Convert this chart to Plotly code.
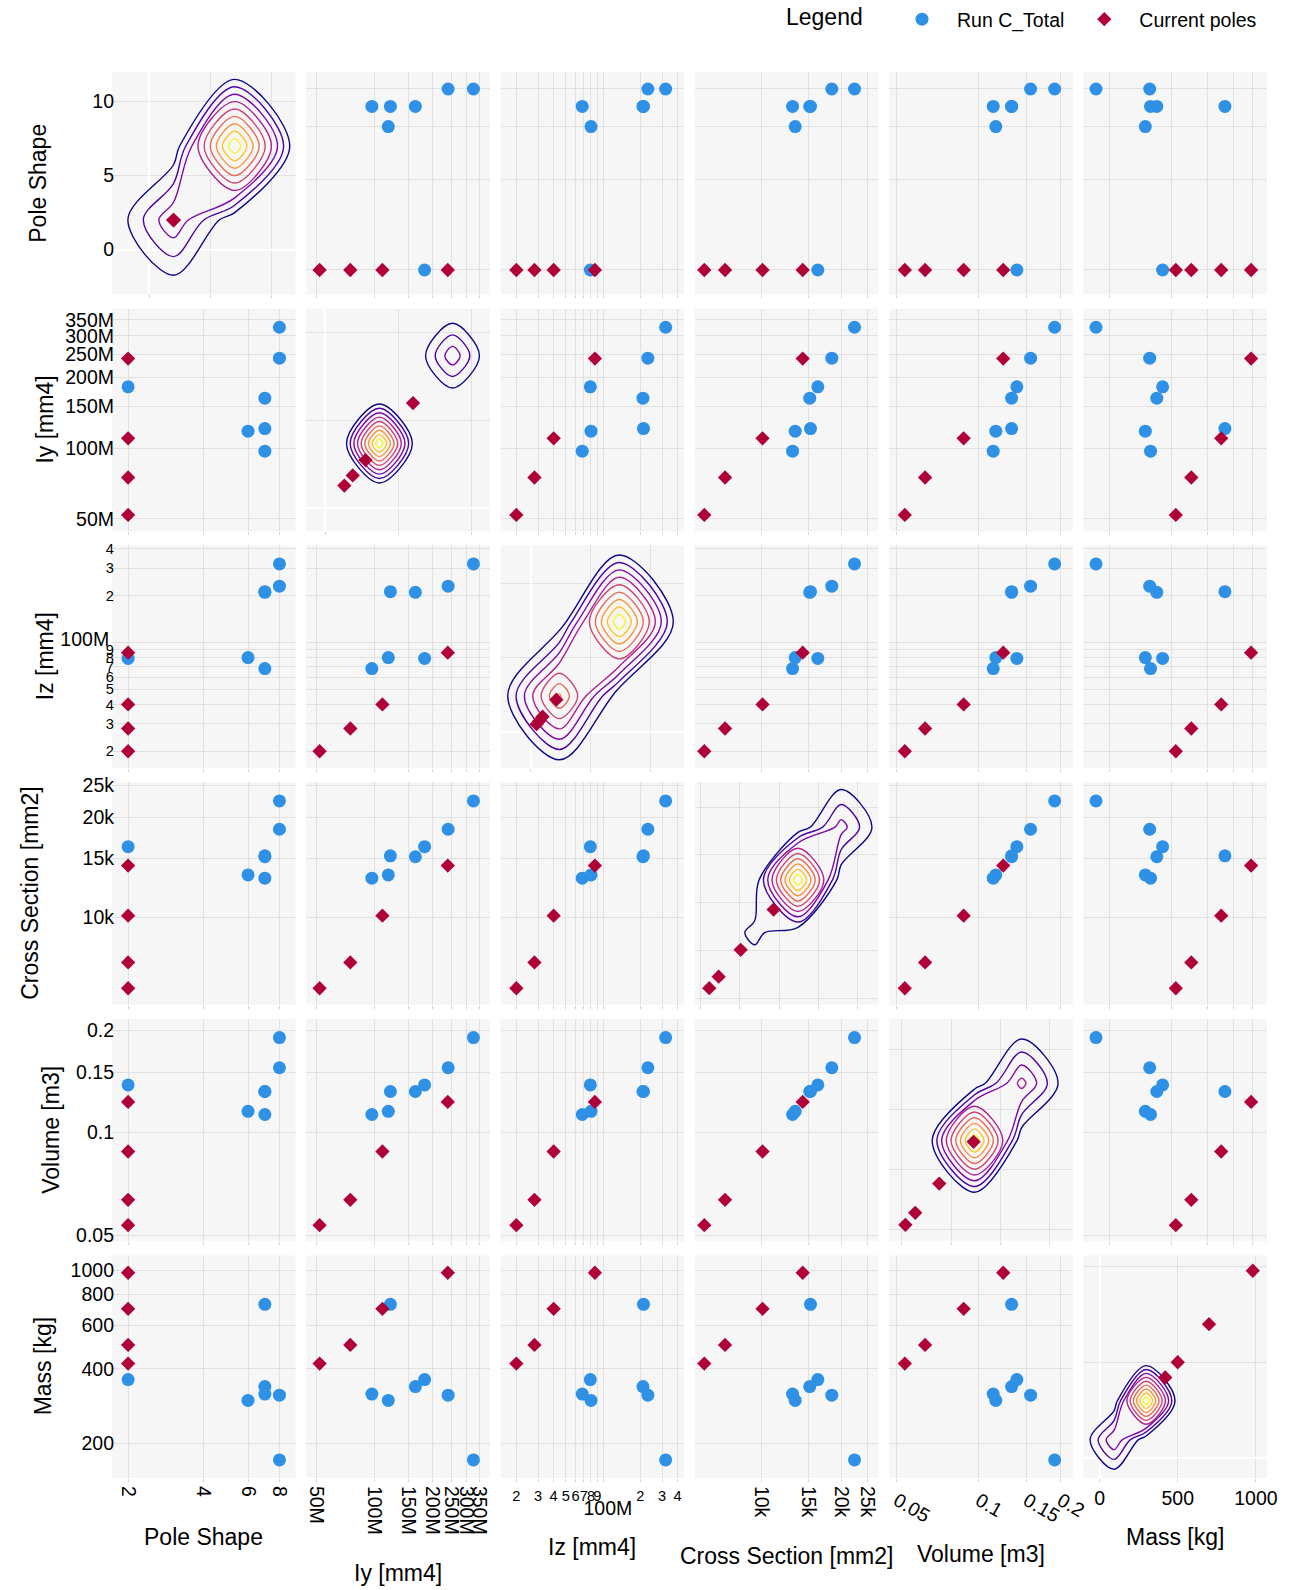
import numpy as np
import plotly.graph_objects as go
from plotly.subplots import make_subplots

# ---------------------------------------------------------------- data
variables = ["Pole Shape", "Iy [mm4]", "Iz [mm4]", "Cross Section [mm2]", "Volume [m3]", "Mass [kg]"]

# Run C_Total designs
run_pole_shape = [2, 7, 7, 7, 6, 8, 8]
run_iy = [182e6, 121e6, 163e6, 97e6, 118e6, 241e6, 326e6]
run_iz = [79e6, 212e6, 210e6, 68e6, 80e6, 230e6, 320e6]
run_cross_section = [16300, 15300, 15200, 13100, 13400, 18400, 22400]
run_volume = [0.138, 0.132, 0.132, 0.113, 0.1155, 0.155, 0.19]
run_mass = [362, 730, 339, 316, 298, 313, 171]

# Current poles
cur_pole_shape = [2, 2, 2, 2]
cur_iy = [240e6, 110e6, 75e6, 52e6]
cur_iz = [86e6, 40e6, 28e6, 20e6]
cur_cross_section = [14300, 10100, 7300, 6100]
cur_volume = [0.123, 0.088, 0.0635, 0.0535]
cur_mass = [980, 700, 500, 420]

# Density of the Run C_Total designs, sampled on a coarse grid along each variable
pole_shape_nodes = [-3, 2, 7, 12]
pole_shape_density = [0.0, 0.395, 1.0, 0.0]
iy_nodes = [-52e6, 48e6, 148e6, 248e6, 348e6, 448e6, 548e6]
iy_density = [0.0, 0.0, 1.0, 0.0, 0.38, 0.0, 0.0]
iz_nodes = [-104e6, 96e6, 296e6, 496e6]
iz_density = [0.0, 0.72, 1.0, 0.0]
cross_section_nodes = [1400, 6400, 11900, 17400, 22900, 28400]
cross_section_density = [0.0, 0.0, 0.13, 1.0, 0.35, 0.0]
volume_nodes = [-0.02, 0.028, 0.076, 0.124, 0.172, 0.22, 0.268]
volume_density = [0.0, 0.0, 0.0, 1.0, 0.44, 0.0, 0.0]
mass_nodes = [-112, 93, 298, 503, 708, 913, 1118]
mass_density = [0.0, 0.4, 1.0, 0.0, 0.0, 0.0, 0.0]

run_values = [run_pole_shape, run_iy, run_iz, run_cross_section, run_volume, run_mass]
cur_values = [cur_pole_shape, cur_iy, cur_iz, cur_cross_section, cur_volume, cur_mass]
density_nodes = [pole_shape_nodes, iy_nodes, iz_nodes, cross_section_nodes, volume_nodes, mass_nodes]
density_values = [pole_shape_density, iy_density, iz_density, cross_section_density,
                  volume_density, mass_density]

# ---------------------------------------------------------------- axis setup
log_x_range = [[0.237, 0.967], [7.647, 8.598], [7.174, 8.654], [3.75, 4.44], [-1.329, -0.655], [2.172, 3.069]]
log_y_range = [[0.2195, 0.9596], [7.647, 8.592], [7.194, 8.624], [3.736, 4.407], [-1.319, -0.666], [2.160, 3.061]]
log_dtick = ["L2", "L50000000", "D1", "L5000", "L0.05", "L200"]

diag_x_range = [[-3.03, 11.97], [-52e6, 450e6], [-100e6, 512e6], [4270, 27650], [0.037, 0.224], [-103, 1071]]
diag_y_range = [[-3.03, 12.0], [-52e6, 455e6], [-98e6, 502e6], [4390, 27600], [0.0397, 0.226], [-107, 1060]]
diag_dtick = [5, 200e6, 200e6, 5000, 0.05, 500]

bottom_tick_angle = [90, 90, 0, 90, 30, 0]

# axis title placement in figure pixels (x titles: centre y; y titles: centre x)
x_title_y_px = [1536.5, 1573, 1546.6, 1555.8, 1553.7, 1537.5]
y_title_x_px = [38.5, 44.6, 44.6, 30.4, 50.7, 42.6]

W, H = 1290, 1590
M_L, M_R, M_T, M_B = 112, 23, 72, 112
PLOT_W, PLOT_H = W - M_L - M_R, H - M_T - M_B

RUN_COLOR = "#2E91E5"
CUR_COLOR = "#AF0038"
FONT = "Arial, Liberation Sans, sans-serif"
GRID = "#e1e1e1"
TICK_SIZE = 19.5
TITLE_SIZE = 23

n = len(variables)
fig = make_subplots(rows=n, cols=n, horizontal_spacing=0.00935, vertical_spacing=0.0101)

for r in range(n):
    for c in range(n):
        row, col = r + 1, c + 1
        first = (r == 1 and c == 0)
        if r == c:
            z = np.diag(density_values[r])
            fig.add_trace(go.Contour(
                x=density_nodes[c], y=density_nodes[r], z=z,
                contours=dict(start=0.1, end=0.9, size=0.1, coloring="lines"),
                colorscale="Plasma", showscale=False,
                line=dict(width=1.4, smoothing=1.0),
                hoverinfo="skip",
            ), row=row, col=col)
            fig.add_trace(go.Scatter(
                x=cur_values[c], y=cur_values[r], mode="markers",
                marker=dict(symbol="diamond", size=11, color=CUR_COLOR, line=dict(width=0)),
                showlegend=False, name="Current poles",
            ), row=row, col=col)
            fig.update_xaxes(type="linear", range=diag_x_range[c], dtick=diag_dtick[c],
                             zeroline=True, zerolinecolor="white", zerolinewidth=2,
                             row=row, col=col)
            fig.update_yaxes(type="linear", range=diag_y_range[r], dtick=diag_dtick[r],
                             zeroline=True, zerolinecolor="white", zerolinewidth=2,
                             row=row, col=col)
        else:
            fig.add_trace(go.Scatter(
                x=run_values[c], y=run_values[r], mode="markers",
                marker=dict(symbol="circle", size=13, color=RUN_COLOR, line=dict(width=0)),
                name="Run C_Total", legendgroup="run", showlegend=first,
            ), row=row, col=col)
            fig.add_trace(go.Scatter(
                x=cur_values[c], y=cur_values[r], mode="markers",
                marker=dict(symbol="diamond", size=11, color=CUR_COLOR, line=dict(width=0)),
                name="Current poles", legendgroup="cur", showlegend=first,
            ), row=row, col=col)
            fig.update_xaxes(type="log", range=log_x_range[c], dtick=log_dtick[c], row=row, col=col)
            fig.update_yaxes(type="log", range=log_y_range[r], dtick=log_dtick[r], row=row, col=col)

        fig.update_xaxes(
            showgrid=True, gridcolor=GRID, gridwidth=1,
            ticks="outside", ticklen=3, tickcolor="#d4d4d4",
            showticklabels=(r == n - 1),
            tickangle=bottom_tick_angle[c],
            tickfont=dict(family=FONT, size=TICK_SIZE, color="black"),
            showline=False,
            row=row, col=col)
        fig.update_yaxes(
            showgrid=True, gridcolor=GRID, gridwidth=1,
            ticks="", ticklabelstandoff=-3,
            showticklabels=(c == 0),
            tickfont=dict(family=FONT, size=TICK_SIZE, color="black"),
            showline=False,
            row=row, col=col)

# axis titles along the bottom and the left side of the matrix
annotations = []
for c in range(n):
    dom = fig.layout["xaxis" if c == 0 else "xaxis%d" % (c + 1)].domain
    annotations.append(dict(
        text=variables[c], xref="paper", yref="paper",
        x=(dom[0] + dom[1]) / 2, y=(H - M_B - x_title_y_px[c]) / PLOT_H,
        xanchor="center", yanchor="middle", showarrow=False,
        font=dict(family=FONT, size=TITLE_SIZE, color="black"),
    ))
for r in range(n):
    k = r * n + 1
    dom = fig.layout["yaxis" if k == 1 else "yaxis%d" % k].domain
    annotations.append(dict(
        text=variables[r], xref="paper", yref="paper",
        x=(y_title_x_px[r] - M_L) / PLOT_W, y=(dom[0] + dom[1]) / 2,
        xanchor="center", yanchor="middle", textangle=-90, showarrow=False,
        font=dict(family=FONT, size=TITLE_SIZE, color="black"),
    ))

# legend heading, set just left of the legend entries
annotations.append(dict(
    text="Legend", xref="paper", yref="paper",
    x=(824 - M_L) / PLOT_W, y=(H - M_B - 17.0) / PLOT_H,
    xanchor="center", yanchor="middle", showarrow=False,
    font=dict(family=FONT, size=TITLE_SIZE, color="black"),
))

fig.update_layout(
    width=W, height=H,
    margin=dict(l=M_L, r=M_R, t=M_T, b=M_B, autoexpand=False),
    paper_bgcolor="white", plot_bgcolor="#f6f6f6",
    font=dict(family=FONT, size=TICK_SIZE, color="black"),
    annotations=annotations,
    legend=dict(
        orientation="h",
        xref="paper", x=1.0 - 5.0 / PLOT_W, xanchor="right",
        yref="container", y=1.0, yanchor="top",
        itemwidth=60, tracegroupgap=28,
        font=dict(family=FONT, size=TICK_SIZE, color="black"),
        bgcolor="rgba(0,0,0,0)",
    ),
)

fig.write_html("out.html")
